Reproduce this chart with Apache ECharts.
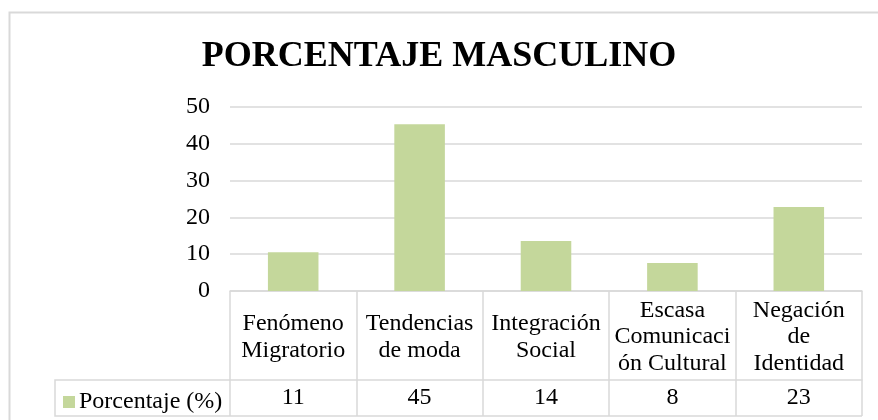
<!DOCTYPE html>
<html>
<head>
<meta charset="utf-8">
<script src="https://cdn.jsdelivr.net/npm/echarts@6/dist/echarts.min.js"></script>
<style>
  html, body { margin: 0; padding: 0; background: #fff; }
  #chart { width: 878px; height: 420px; }
</style>
</head>
<body>
<div id="chart"></div>
<script>
// Chart data
const categories = ['Fenómeno\nMigratorio', 'Tendencias\nde moda', 'Integración\nSocial', 'Escasa\nComunicaci\nón Cultural', 'Negación\nde\nIdentidad'];
const values = [10.5, 45.3, 13.6, 7.6, 22.8];
const tableLabels = ['11', '45', '14', '8', '23'];
const seriesName = 'Porcentaje (%)';
const yTicks = [0, 10, 20, 30, 40, 50];

const FONT = '"Liberation Serif", "Times New Roman", serif';
const LINE = '#d9d9d9';
const BAR = '#c4d79b';

const chart = echarts.init(document.getElementById('chart'));

chart.setOption({
  animation: false,
  backgroundColor: '#fff',
  title: {
    text: 'PORCENTAJE MASCULINO',
    left: 'center',
    top: 34,
    textStyle: { fontFamily: FONT, fontSize: 36, fontWeight: 'bold', color: '#000' }
  },
  legend: {
    data: [seriesName],
    left: 58,
    top: 385,
    icon: 'rect',
    itemWidth: 12,
    itemHeight: 12,
    itemGap: 4,
    textStyle: { fontFamily: FONT, fontSize: 24, color: '#000', padding: [0, 0, 0, -1] }
  },
  grid: { left: 230, right: 16, top: 107, bottom: 129 },
  xAxis: [{
    type: 'category',
    data: categories,
    axisLine: { lineStyle: { color: LINE, width: 1.5 } },
    axisTick: { show: true, length: 125, lineStyle: { color: LINE, width: 1.5 } },
    axisLabel: {
      interval: 0,
      fontFamily: FONT, fontSize: 24, lineHeight: 26.5, color: '#000',
      margin: 46, verticalAlign: 'middle'
    }
  }, {
    type: 'category',
    data: tableLabels,
    position: 'bottom',
    offset: 89,
    axisLine: { lineStyle: { color: LINE, width: 1.5 } },
    axisTick: { show: false },
    axisLabel: { interval: 0, fontFamily: FONT, fontSize: 24, color: '#000', margin: 6 }
  }],
  yAxis: {
    type: 'value',
    min: yTicks[0],
    max: yTicks[yTicks.length - 1],
    interval: 10,
    axisLine: { show: false },
    axisTick: { show: false },
    splitLine: { lineStyle: { color: LINE, width: 1.5 } },
    axisLabel: { fontFamily: FONT, fontSize: 24, color: '#000', margin: 20 }
  },
  series: [{
    name: seriesName,
    type: 'bar',
    data: values,
    barWidth: '40%',
    itemStyle: { color: BAR }
  }],
  graphic: [
    // outer chart border
    { type: 'rect', shape: { x: 9.5, y: 12.5, width: 880, height: 420 }, style: { fill: 'none', stroke: LINE, lineWidth: 2 } },
    // legend cell of the data table
    { type: 'polyline', shape: { points: [[230, 380], [55, 380], [55, 416], [862, 416]] }, style: { fill: 'none', stroke: LINE, lineWidth: 1.5 } }
  ]
});
</script>
</body>
</html>
